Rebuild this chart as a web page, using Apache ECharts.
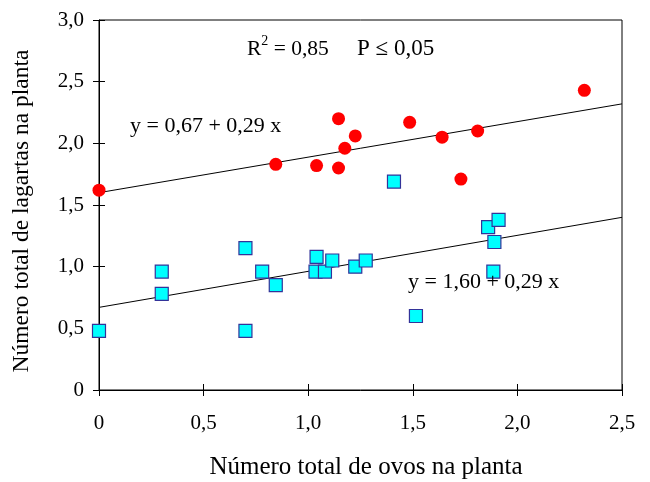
<!DOCTYPE html>
<html>
<head>
<meta charset="utf-8">
<script src="https://cdn.jsdelivr.net/npm/echarts@6/dist/echarts.min.js"></script>
<style>html,body{margin:0;padding:0;background:#fff}#c{width:650px;height:482px}</style>
</head>
<body>
<div id="c"></div>
<script>
// Red circles
const redX = [0.0, 0.845, 1.04, 1.145, 1.145, 1.175, 1.225, 1.485, 1.64, 1.73, 1.81, 2.32];
const redY = [1.62, 1.83, 1.82, 1.80, 2.20, 1.96, 2.06, 2.17, 2.05, 1.71, 2.10, 2.43];
// Cyan squares
const blueX = [0.0, 0.30, 0.30, 0.70, 0.70, 0.78, 0.845, 1.04, 1.035, 1.08, 1.115, 1.225, 1.275, 1.41, 1.515, 1.86, 1.89, 1.91, 1.885];
const blueY = [0.48, 0.96, 0.78, 1.15, 0.48, 0.96, 0.85, 1.08, 0.96, 0.96, 1.05, 1.00, 1.05, 1.69, 0.60, 1.32, 1.20, 1.38, 0.96];
// Fitted lines
const lineX = [0, 2.5];
const redFitY = [1.60, 2.32];
const blueFitY = [0.67, 1.40];
// Axis ticks
const xMin = 0, xMax = 2.5, xStep = 0.5;
const yMin = 0, yMax = 3.0, yStep = 0.5;
// Texts
const xTitle = 'Número total de ovos na planta';
const yTitle = 'Número total de lagartas na planta';
const statR = ' = 0,85';
const statP = 'P ≤ 0,05';
const eqUpper = 'y = 0,67 + 0,29 x';
const eqLower = 'y = 1,60 + 0,29 x';

const FONT = '"Liberation Serif", "Times New Roman", serif';
const fmt = v => v === 0 ? '0' : v.toFixed(1).replace('.', ',');
const zip = (a, b) => a.map((v, i) => [v, b[i]]);

const chart = echarts.init(document.getElementById('c'), null, {renderer: 'canvas'});

const baseX = {
  type: 'value', min: xMin, max: xMax, interval: xStep, position: 'bottom',
  splitLine: {show: false}
};
const baseY = {
  type: 'value', min: yMin, max: yMax, interval: yStep, position: 'left',
  splitLine: {show: false}
};

chart.setOption({
  animation: false,
  backgroundColor: '#fff',
  grid: {left: 99, right: 28, top: 20, bottom: 92, containLabel: false, outerBoundsMode: 'none',
         show: true, borderColor: '#000', borderWidth: 1, backgroundColor: 'transparent'},
  xAxis: [
    Object.assign({}, baseX, {
      axisLine: {show: true, lineStyle: {color: '#000', width: 1}},
      axisTick: {show: true, inside: false, length: 6, lineStyle: {color: '#000', width: 1}},
      axisLabel: {color: '#000', fontFamily: FONT, fontSize: 21, margin: 23, formatter: fmt}
    }),
    Object.assign({}, baseX, {
      axisLine: {show: false},
      axisTick: {show: true, inside: true, length: 6, lineStyle: {color: '#000', width: 1}},
      axisLabel: {show: false}
    })
  ],
  yAxis: [
    Object.assign({}, baseY, {
      axisLine: {show: true, lineStyle: {color: '#000', width: 1}},
      axisTick: {show: true, inside: false, length: 6, lineStyle: {color: '#000', width: 1}},
      axisLabel: {color: '#000', fontFamily: FONT, fontSize: 21, margin: 15, formatter: fmt}
    }),
    Object.assign({}, baseY, {
      axisLine: {show: false},
      axisTick: {show: true, inside: true, length: 6, lineStyle: {color: '#000', width: 1}},
      axisLabel: {show: false}
    })
  ],
  series: [
    {
      name: 'ajuste superior', type: 'line', data: zip(lineX, redFitY),
      symbol: 'none', lineStyle: {color: '#000', width: 1}, z: 1, silent: true
    },
    {
      name: 'ajuste inferior', type: 'line', data: zip(lineX, blueFitY),
      symbol: 'none', lineStyle: {color: '#000', width: 1}, z: 1, silent: true
    },
    {
      name: 'círculos', type: 'scatter', data: zip(redX, redY), clip: false,
      symbol: 'circle', symbolSize: 13,
      itemStyle: {color: '#FF0000', opacity: 1}, z: 3
    },
    {
      name: 'quadrados', type: 'scatter', data: zip(blueX, blueY), clip: false,
      symbol: 'rect', symbolSize: 13,
      itemStyle: {color: '#00FFFF', borderColor: '#333399', borderWidth: 1.2, opacity: 1}, z: 3
    }
  ],
  graphic: [
    {type: 'text', x: 22, y: 211, rotation: Math.PI / 2, z: 10,
     style: {text: yTitle, font: '23.5px ' + FONT, fill: '#000', align: 'center', verticalAlign: 'middle'}},
    {type: 'text', x: 366, y: 467, z: 10,
     style: {text: xTitle, font: '25px ' + FONT, fill: '#000', align: 'center', verticalAlign: 'middle'}},
    {type: 'text', left: 247, top: 34, z: 10,
     style: {
       text: '{n|R}{s|2}{n|' + statR + '}',
       rich: {
         n: {font: '21.5px ' + FONT, fill: '#000', lineHeight: 26, verticalAlign: 'bottom'},
         s: {font: '14px ' + FONT, fill: '#000', lineHeight: 14, verticalAlign: 'top'}
       }
     }},
    {type: 'text', left: 357, top: 37, z: 10,
     style: {text: statP, font: '23px ' + FONT, fill: '#000'}},
    {type: 'text', left: 130, top: 115, z: 10,
     style: {text: eqUpper, font: '22px ' + FONT, fill: '#000'}},
    {type: 'text', left: 408, top: 271, z: 10,
     style: {text: eqLower, font: '22px ' + FONT, fill: '#000'}}
  ]
});
</script>
</body>
</html>
